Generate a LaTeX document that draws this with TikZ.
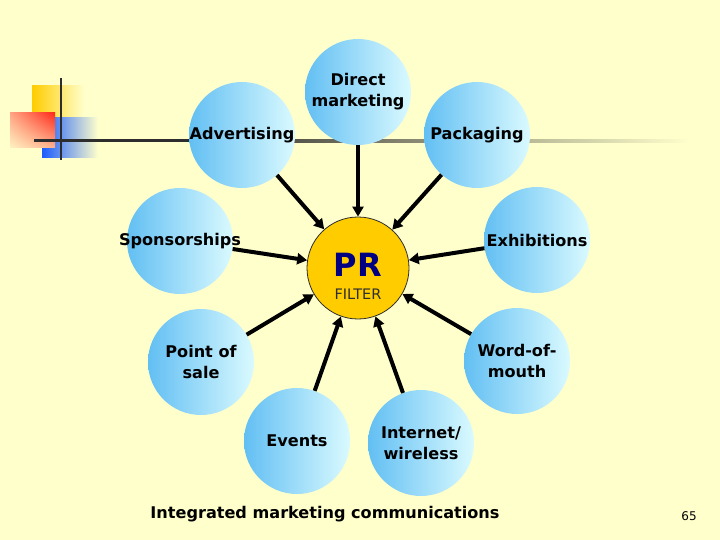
\documentclass[tikz,border=0pt]{standalone}
\usepackage{fontspec}
\setmainfont{DejaVu Sans}
\usetikzlibrary{arrows.meta,shadings}
\definecolor{paleYellow}{HTML}{FFFFCC}
\definecolor{bubbleLeft}{HTML}{62BFF3}
\definecolor{bubbleRight}{HTML}{DAFAFF}
\definecolor{prOrange}{HTML}{FFCC00}
\definecolor{prNavy}{HTML}{000080}
\definecolor{decoYellow}{HTML}{FFCC00}
\definecolor{decoBlue}{HTML}{1A5CFF}
\definecolor{decoRed}{HTML}{FF2A1A}
\definecolor{darkLine}{HTML}{2D2D2D}
\tikzset{
  bubble/.style={circle,minimum size=106pt,inner sep=0pt,left color=bubbleLeft,right color=bubbleRight},
  lbl/.style={font=\bfseries\fontsize{16.1}{21}\selectfont,align=center,text=black},
  feed/.style={line width=4pt,-{Triangle[length=10pt,width=11pt]}}
}
\begin{document}
\begin{tikzpicture}[x=1pt,y=-1pt]
\fill[paleYellow] (0,0) rectangle (720,540);
\useasboundingbox (0,0) rectangle (720,540);
\shade[left color=decoYellow,middle color=decoYellow,right color=paleYellow] (32,86) rectangle (84,122);
\shade[left color=decoBlue,middle color=decoBlue,right color=paleYellow] (42,118) rectangle (98,158);
\shade[upper right=decoRed,upper left=red!35!paleYellow,lower right=red!30!paleYellow,lower left=red!5!paleYellow] (10,113) rectangle (55,148);
\fill[darkLine] (34,139.5) rectangle (200,142.5);
\shade[left color=darkLine,right color=paleYellow] (200,139.5) rectangle (690,142.5);
\draw[darkLine,line width=2.5pt] (61,78) -- (61,160);
\node[bubble,label={[lbl]center:Direct\\marketing}] (direct) at (358,92) {};
\node[bubble,label={[lbl]center:Advertising}] (adv) at (242,135) {};
\node[bubble,label={[lbl]center:Packaging}] (pack) at (477,135) {};
\node[bubble,label={[lbl]center:Sponsorships}] (spon) at (180,241) {};
\node[bubble,label={[lbl]center:Exhibitions}] (exhib) at (537,240) {};
\node[bubble,label={[lbl]center:Point of\\sale}] (pos) at (201,362) {};
\node[bubble,label={[lbl]center:Word-of-\\mouth}] (word) at (517,361) {};
\node[bubble,label={[lbl]center:Events}] (events) at (297,441) {};
\node[bubble,label={[lbl]center:Internet/\\wireless}] (net) at (421,443) {};
\node[circle,minimum size=102pt,inner sep=0pt,fill=prOrange,draw=darkLine,line width=0.8pt,
  label={[text=prNavy,font=\bfseries\fontsize{32}{36}\selectfont,yshift=3pt]center:PR},
  label={[text=darkLine,font=\fontsize{14.5}{16}\selectfont,yshift=-26pt]center:FILTER}] (pr) at (358,268) {};
\draw[feed] (direct) -- (pr);
\draw[feed] (adv) -- (pr);
\draw[feed] (pack) -- (pr);
\draw[feed] (spon) -- (pr);
\draw[feed] (exhib) -- (pr);
\draw[feed] (pos) -- (pr);
\draw[feed] (word) -- (pr);
\draw[feed] (events) -- (pr);
\draw[feed] (net) -- (pr);
\node[lbl] (title) at (325,514) {Integrated marketing communications};
\node[font=\fontsize{12}{14}\selectfont] (pnum) at (689,516) {65};
\end{tikzpicture}
\end{document}
